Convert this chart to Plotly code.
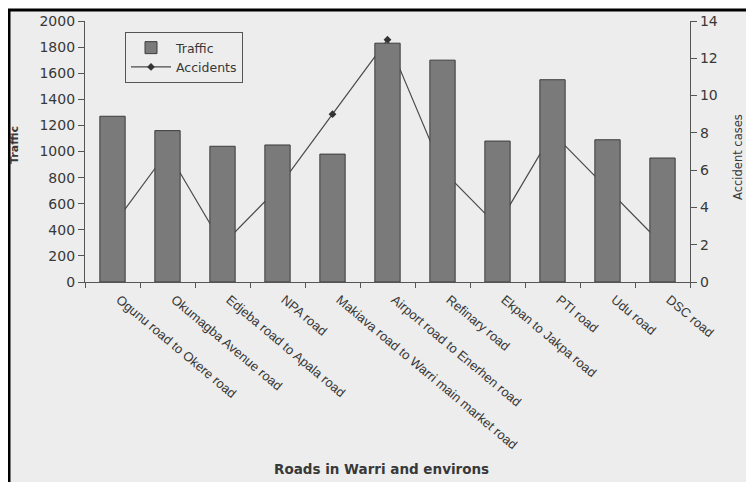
import plotly.graph_objects as go

roads = [
    "Ogunu road to Okere road",
    "Okumagba Avenue road",
    "Edjeba road to Apala road",
    "NPA road",
    "Makiava road to Warri main market road",
    "Airport road to Enerhen road",
    "Refinary road",
    "Ekpan to Jakpa road",
    "PTI road",
    "Udu road",
    "DSC road",
]
traffic = [1270, 1160, 1040, 1050, 980, 1830, 1700, 1080, 1550, 1090, 950]
accidents = [3, 7, 2, 5, 9, 13, 6, 3, 8, 5, 2]
traffic_ticks = list(range(0, 2001, 200))
accident_ticks = list(range(0, 15, 2))

# page body has an 8px margin, so the figure is drawn from (8, 8)
OFF = 8
W, H = 754 - OFF, 482 - OFF
L, R, T, B = 85 - OFF, 690 - OFF, 21 - OFF, 282 - OFF
pw, ph = R - L, B - T


def px(x):
    return (x - OFF - L) / pw


def py(y):
    return (B - (y - OFF)) / ph


TXT = "#383838"
AX = "#555555"
FONT = "DejaVu Sans"
BG = "#ededed"

fig = go.Figure()
fig.add_trace(go.Bar(
    x=roads, y=traffic, name="Traffic", yaxis="y2",
    marker=dict(color="#7a7a7a", line=dict(color="#3c3c3c", width=1)),
    width=0.46,
))
fig.add_trace(go.Scatter(
    x=roads, y=accidents, name="Accidents", yaxis="y",
    mode="lines+markers",
    line=dict(color="#4a4a4a", width=1.2),
    marker=dict(symbol="diamond", size=6, color="#333333"),
))

fig.update_layout(
    width=W, height=H,
    margin=dict(l=L, r=W - R, t=T, b=H - B, autoexpand=False),
    paper_bgcolor="white",
    plot_bgcolor="rgba(0,0,0,0)",
    font=dict(family=FONT, size=12, color=TXT),
    showlegend=True,
    legend=dict(
        x=px(125), y=py(32), xanchor="left", yanchor="top",
        bgcolor=BG, bordercolor="#555555", borderwidth=1,
        font=dict(family=FONT, size=12.5, color=TXT),
        tracegroupgap=0, itemwidth=40,
    ),
    xaxis=dict(
        type="category", tickangle=40, automargin=False,
        ticks="outside", tickson="boundaries", ticklen=5, tickcolor=AX,
        showline=True, linecolor=AX, linewidth=1.2,
        showgrid=False, zeroline=False,
        tickfont=dict(family="Liberation Sans", size=13, color=TXT),
        ticklabelshift=7, ticklabelstandoff=4,
        range=[-0.5, 10.5],
    ),
    yaxis=dict(
        side="right", range=[0, 14], tickvals=accident_ticks, automargin=False,
        ticks="outside", ticklen=6, tickcolor=AX,
        showline=True, linecolor=AX, linewidth=1.2,
        showgrid=False, zeroline=False,
        tickfont=dict(family=FONT, size=14, color=TXT),
    ),
    yaxis2=dict(
        overlaying="y", side="left", range=[0, 2000], tickvals=traffic_ticks,
        automargin=False,
        ticks="outside", ticklen=6, tickcolor=AX,
        showline=True, linecolor=AX, linewidth=1.2,
        showgrid=False, zeroline=False,
        tickfont=dict(family=FONT, size=14, color=TXT),
    ),
    shapes=[dict(
        type="rect", xref="paper", yref="paper", layer="below",
        x0=px(9), x1=px(780), y0=py(520), y1=py(10),
        line=dict(color="black", width=3), fillcolor=BG,
    )],
    annotations=[
        dict(text="<b>Traffic</b>", xref="paper", yref="paper",
             x=px(14), y=py(145), xanchor="center", yanchor="middle",
             textangle=-90, showarrow=False,
             font=dict(family=FONT, size=11, color=TXT)),
        dict(text="Accident cases", xref="paper", yref="paper",
             x=px(738), y=py(157), xanchor="center", yanchor="middle",
             textangle=-90, showarrow=False,
             font=dict(family=FONT, size=11.5, color=TXT)),
        dict(text="<b>Roads in Warri and environs</b>", xref="paper", yref="paper",
             x=px(381), y=py(469), xanchor="center", yanchor="middle",
             showarrow=False,
             font=dict(family=FONT, size=13.5, color=TXT)),
    ],
)

fig.write_html("out.html")
